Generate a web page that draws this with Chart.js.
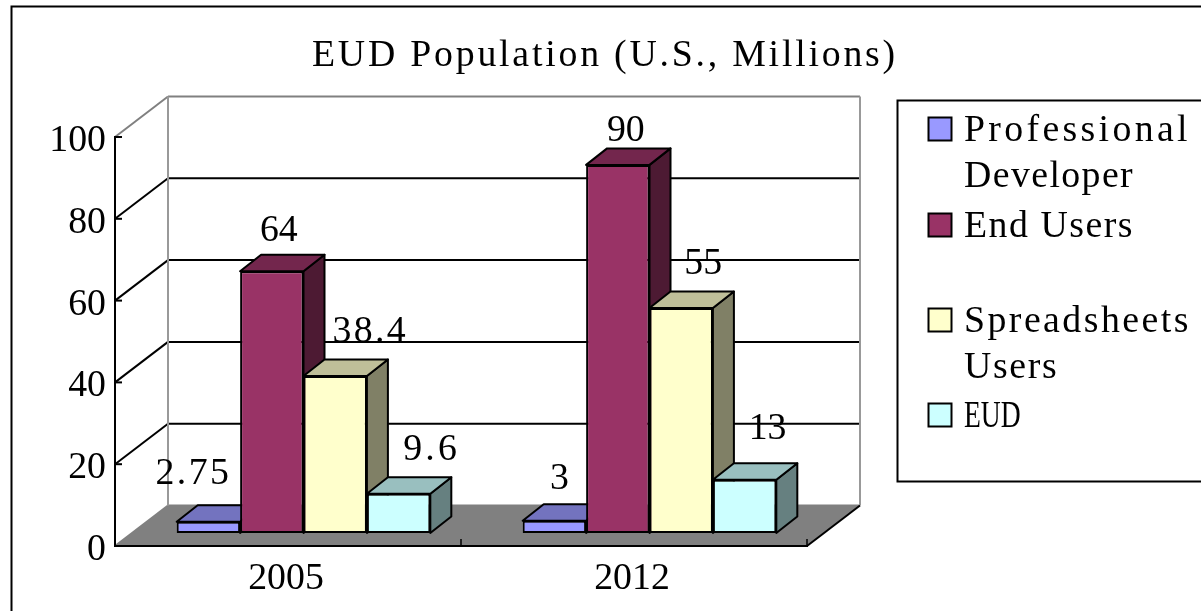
<!DOCTYPE html>
<html>
<head>
<meta charset="utf-8">
<title>EUD Population</title>
<script src="https://cdn.jsdelivr.net/npm/chart.js@4/dist/chart.umd.min.js"></script>
<style>
  html, body { margin: 0; padding: 0; background: #fff; overflow: hidden; }
  canvas { display: block; }
</style>
</head>
<body>
<canvas id="chart" width="1201" height="611"></canvas>
<script>
const chartTitle = 'EUD Population (U.S., Millions)'
const categories = ['2005', '2012']
const yTicks = [0, 20, 40, 60, 80, 100]

const professional = [2.75, 3]
const endUsers = [64, 90]
const spreadsheets = [38.4, 55]
const eud = [9.6, 13]

const seriesNames = ['Professional Developer', 'End Users', 'Spreadsheets Users', 'EUD']
const legendLines = [['Professional', 'Developer'], ['End Users'], ['Spreadsheets', 'Users'], ['EUD']]

// fill, top face, side face
const frontColors = ['#9999ff', '#993366', '#ffffcc', '#ccffff']
const topColors = ['#7373bf', '#73264d', '#bfbf99', '#99bfbf']
const sideColors = ['#666699', '#4d1a33', '#808066', '#668080']

// data labels were moved by hand in the original, offset from the bar's front top
const labelNudges = [
  [[-15, -50], [5, -44]],
  [[7, -43], [8, -36]],
  [[35, -46], [22, -46]],
  [[33, -46], [23, -53]]
]

const FONT = '37.8px "Liberation Serif"'
const CHAR_W = 18.9
const TEXT_DROP = 2.5

// depth of the box and of each bar
const wallX = 53
const wallY = -40.5
const barShiftX = 15.5
const barShiftY = -13
const barDepthX = 21
const barDepthY = -16.5

// SimSun is monospaced, so fit the string to the same advance
function monoText(ctx, text, x, y) {
  const target = text.length * CHAR_W
  ctx.letterSpacing = '0px'
  const natural = ctx.measureText(text).width
  if (natural > target) {
    ctx.fillText(text, x, y + TEXT_DROP, target)
    return
  }
  ctx.letterSpacing = ((target - natural) / text.length).toFixed(2) + 'px'
  ctx.fillText(text, x, y + TEXT_DROP)
  ctx.letterSpacing = '0px'
}

function line(ctx, x1, y1, x2, y2, color, width) {
  ctx.strokeStyle = color
  ctx.lineWidth = width
  ctx.beginPath()
  ctx.moveTo(x1, y1)
  ctx.lineTo(x2, y2)
  ctx.stroke()
}

function face(ctx, pts, fill) {
  ctx.fillStyle = fill
  ctx.strokeStyle = '#000'
  ctx.lineWidth = 2
  ctx.lineJoin = 'round'
  ctx.beginPath()
  pts.forEach((p, i) => i ? ctx.lineTo(p[0], p[1]) : ctx.moveTo(p[0], p[1]))
  ctx.closePath()
  ctx.fill()
  ctx.stroke()
}

const boxPlugin = {
  id: 'box3d',
  beforeDraw(chart) {
    const ctx = chart.ctx
    const x = chart.scales.x
    const y = chart.scales.y
    const y0 = y.getPixelForValue(0)
    ctx.save()

    // outer frame runs off the picture on the right and at the bottom
    ctx.strokeStyle = '#000'
    ctx.lineWidth = 2
    ctx.strokeRect(11.5, 6.5, 1300, 700)

    // floor
    ctx.fillStyle = '#808080'
    ctx.beginPath()
    ctx.moveTo(x.left, y0)
    ctx.lineTo(x.right, y0)
    ctx.lineTo(x.right + wallX, y0 + wallY)
    ctx.lineTo(x.left + wallX, y0 + wallY)
    ctx.closePath()
    ctx.fill()

    // walls and gridlines
    yTicks.forEach(v => {
      const py = y.getPixelForValue(v)
      const edge = v === 100 || v === 0
      const color = edge ? '#808080' : '#000'
      line(ctx, x.left, py, x.left + wallX, py + wallY, color, 2)
      line(ctx, x.left + wallX, py + wallY, x.right + wallX, py + wallY, color, 2)
      line(ctx, x.left, py, x.left + 7, py, '#000', 2)
    })
    const top = y.getPixelForValue(100) + wallY
    line(ctx, x.left + wallX, top, x.left + wallX, y0 + wallY, '#999', 2)
    line(ctx, x.right + wallX, top, x.right + wallX, y0 + wallY, '#999', 2)
    line(ctx, x.right, y0, x.right + wallX, y0 + wallY, '#000', 2)

    // ticks between the categories
    const step = (x.right - x.left) / categories.length
    for (let i = 1; i <= categories.length; i++) {
      line(ctx, x.left + step * i, y0, x.left + step * i, y0 - 7, '#000', 1.5)
    }
    ctx.restore()
  },
  // bars have to go left to right so each front covers the side before it
  beforeDatasetsDraw(chart) {
    const ctx = chart.ctx
    chart.data.datasets.forEach((ds, i) => {
      const meta = chart.getDatasetMeta(i)
      ctx.save()
      meta.data.forEach(bar => {
        const l = bar.x - bar.width / 2 + barShiftX
        const r = bar.x + bar.width / 2 + barShiftX
        const t = bar.y + barShiftY
        const b = bar.base + barShiftY
        face(ctx, [[r, t], [r + barDepthX, t + barDepthY], [r + barDepthX, b + barDepthY], [r, b]], sideColors[i])
        face(ctx, [[l, t], [l + barDepthX, t + barDepthY], [r + barDepthX, t + barDepthY], [r, t]], topColors[i])
      })
      ctx.translate(barShiftX, barShiftY)
      meta.controller.draw()
      ctx.restore()
    })
    return false
  },
  afterDraw(chart) {
    const ctx = chart.ctx
    ctx.save()
    ctx.font = FONT
    ctx.fillStyle = '#000'
    ctx.textBaseline = 'middle'
    ctx.textAlign = 'left'

    monoText(ctx, chartTitle, 312, 54)

    // data labels
    ctx.textAlign = 'center'
    chart.data.datasets.forEach((ds, i) => {
      chart.getDatasetMeta(i).data.forEach((bar, j) => {
        const n = labelNudges[i][j]
        const cx = bar.x + barShiftX
        const cy = bar.y + barShiftY
        monoText(ctx, String(ds.data[j]), cx + n[0], cy + n[1])
      })
    })

    // legend
    ctx.textAlign = 'left'
    ctx.strokeStyle = '#000'
    ctx.lineWidth = 2
    ctx.strokeRect(897.5, 100.5, 400, 381)
    const rowY = [129, 225, 320, 415]
    legendLines.forEach((rows, i) => {
      ctx.fillStyle = frontColors[i]
      ctx.fillRect(928.5, rowY[i] - 11.5, 23, 23)
      ctx.strokeRect(928.5, rowY[i] - 11.5, 23, 23)
      ctx.fillStyle = '#000'
      rows.forEach((txt, k) => monoText(ctx, txt, 964, rowY[i] + k * 46))
    })
    ctx.restore()
  }
}

const seriesValues = [professional, endUsers, spreadsheets, eud]

new Chart(document.getElementById('chart'), {
  type: 'bar',
  data: {
    labels: categories,
    datasets: seriesValues.map((vals, i) => ({
      label: seriesNames[i],
      data: vals,
      backgroundColor: frontColors[i],
      borderColor: '#000',
      borderWidth: 2,
      borderSkipped: false
    }))
  },
  options: {
    responsive: false,
    animation: false,
    categoryPercentage: 0.733,
    barPercentage: 1,
    layout: { padding: { left: 0, top: 137, right: 394, bottom: 0 } },
    plugins: {
      legend: { display: false },
      title: { display: false },
      tooltip: { enabled: false }
    },
    scales: {
      x: {
        afterFit(scale) { scale.height = 65 },
        grid: { display: false, drawTicks: false },
        border: { display: true, color: '#000', width: 2 },
        ticks: { color: '#000', font: { family: 'Liberation Serif', size: 37.8 }, padding: 10, maxRotation: 0, labelOffset: -2 }
      },
      y: {
        min: 0,
        max: 100,
        afterFit(scale) { scale.width = 115 },
        afterBuildTicks(scale) { scale.ticks = yTicks.map(v => ({ value: v })) },
        grid: { display: false, drawTicks: false },
        border: { display: true, color: '#000', width: 2 },
        ticks: { color: '#000', font: { family: 'Liberation Serif', size: 37.8 }, padding: 9, labelOffset: 4 }
      }
    }
  },
  plugins: [boxPlugin]
})
</script>
</body>
</html>
